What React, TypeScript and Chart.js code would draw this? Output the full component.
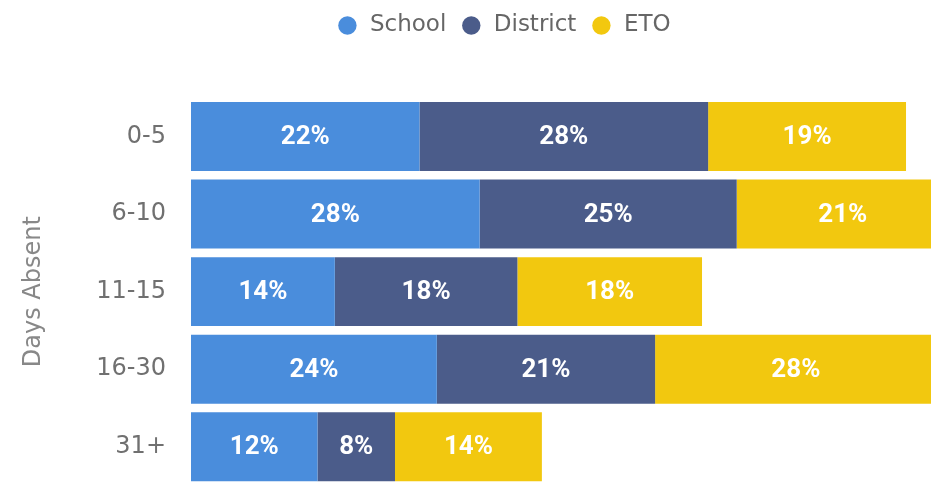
import React, { useEffect, useRef } from "react";
import { Chart, registerables } from "chart.js";

Chart.register(...registerables);

const categories = ["0-5", "6-10", "11-15", "16-30", "31+"];
const seriesNames = ["School", "District", "ETO"];
const schoolValues = [22.4, 28.3, 14.1, 24.1, 12.4];
const districtValues = [28.3, 25.2, 17.9, 21.4, 7.6];
const etoValues = [19.4, 20.8, 18.1, 27.6, 14.4];
const axisTitle = "Days Absent";
const xMax = 80;

const seriesColors = ["#4A8DDC", "#4B5C8A", "#F2C80F"];

const W = 1026;
const H = 500;

export default function App() {
  const ref = useRef<HTMLCanvasElement>(null);

  useEffect(() => {
    document.body.style.overflow = "hidden";
    const canvas = ref.current;
    if (!canvas) return;

    const legendHeight = {
      id: "legendHeight",
      beforeUpdate(chart: any) {
        const lg = chart.legend;
        if (lg && !lg.__patched) {
          const fit = lg.fit;
          lg.fit = function () {
            fit.call(this);
            this.height = 97.65;
          };
          lg.__patched = true;
        }
      },
    };

    const barLabels = {
      id: "barLabels",
      afterDatasetsDraw(chart: any) {
        const ctx = chart.ctx;
        ctx.save();
        ctx.font = "bold 26px Roboto";
        ctx.fillStyle = "#ffffff";
        ctx.textAlign = "center";
        ctx.textBaseline = "middle";
        chart.data.datasets.forEach((ds: any, di: number) => {
          const meta = chart.getDatasetMeta(di);
          meta.data.forEach((el: any, i: number) => {
            const { x, y, base } = el.getProps(["x", "y", "base"], true);
            const v = ds.data[i] as number;
            ctx.fillText(Math.round(v) + "%", (x + base) / 2, y + 1);
          });
        });
        ctx.restore();
      },
    };

    const valuesList = [schoolValues, districtValues, etoValues];

    const chart = new Chart(canvas, {
      type: "bar",
      data: {
        labels: categories,
        datasets: seriesNames.map((name, i) => ({
          label: name,
          data: valuesList[i],
          backgroundColor: seriesColors[i],
          borderWidth: 0,
          categoryPercentage: 0.888,
          barPercentage: 1,
        })),
      },
      options: {
        indexAxis: "y",
        responsive: false,
        animation: false,
        layout: { padding: { left: 0, right: 19, top: 0, bottom: 0 } },
        scales: {
          x: { stacked: true, min: 0, max: xMax, display: false },
          y: {
            stacked: true,
            grid: { display: false, drawTicks: true, tickLength: 25 },
            border: { display: false },
            ticks: {
              padding: 0,
              color: "#707070",
              font: { family: "DejaVu Sans", size: 24 },
            },
            title: {
              display: true,
              text: axisTitle,
              color: "#888888",
              font: { family: "DejaVu Sans", size: 24 },
              padding: { top: 19, bottom: 0 },
            },
            afterFit(scale: any) {
              scale.width = 191;
            },
          },
        },
        plugins: {
          legend: {
            labels: {
              usePointStyle: true,
              pointStyle: "circle",
              boxWidth: 22,
              boxHeight: 13,
              padding: 14,
              color: "#666666",
              font: { family: "DejaVu Sans", size: 23 },
            },
          },
          tooltip: { enabled: false },
        },
      } as any,
      plugins: [legendHeight, barLabels],
    });

    return () => chart.destroy();
  }, []);

  return (
    <div style={{ position: "fixed", left: 0, top: 0, width: W, height: H }}>
      <canvas ref={ref} width={W} height={H} style={{ display: "block" }} />
    </div>
  );
}
